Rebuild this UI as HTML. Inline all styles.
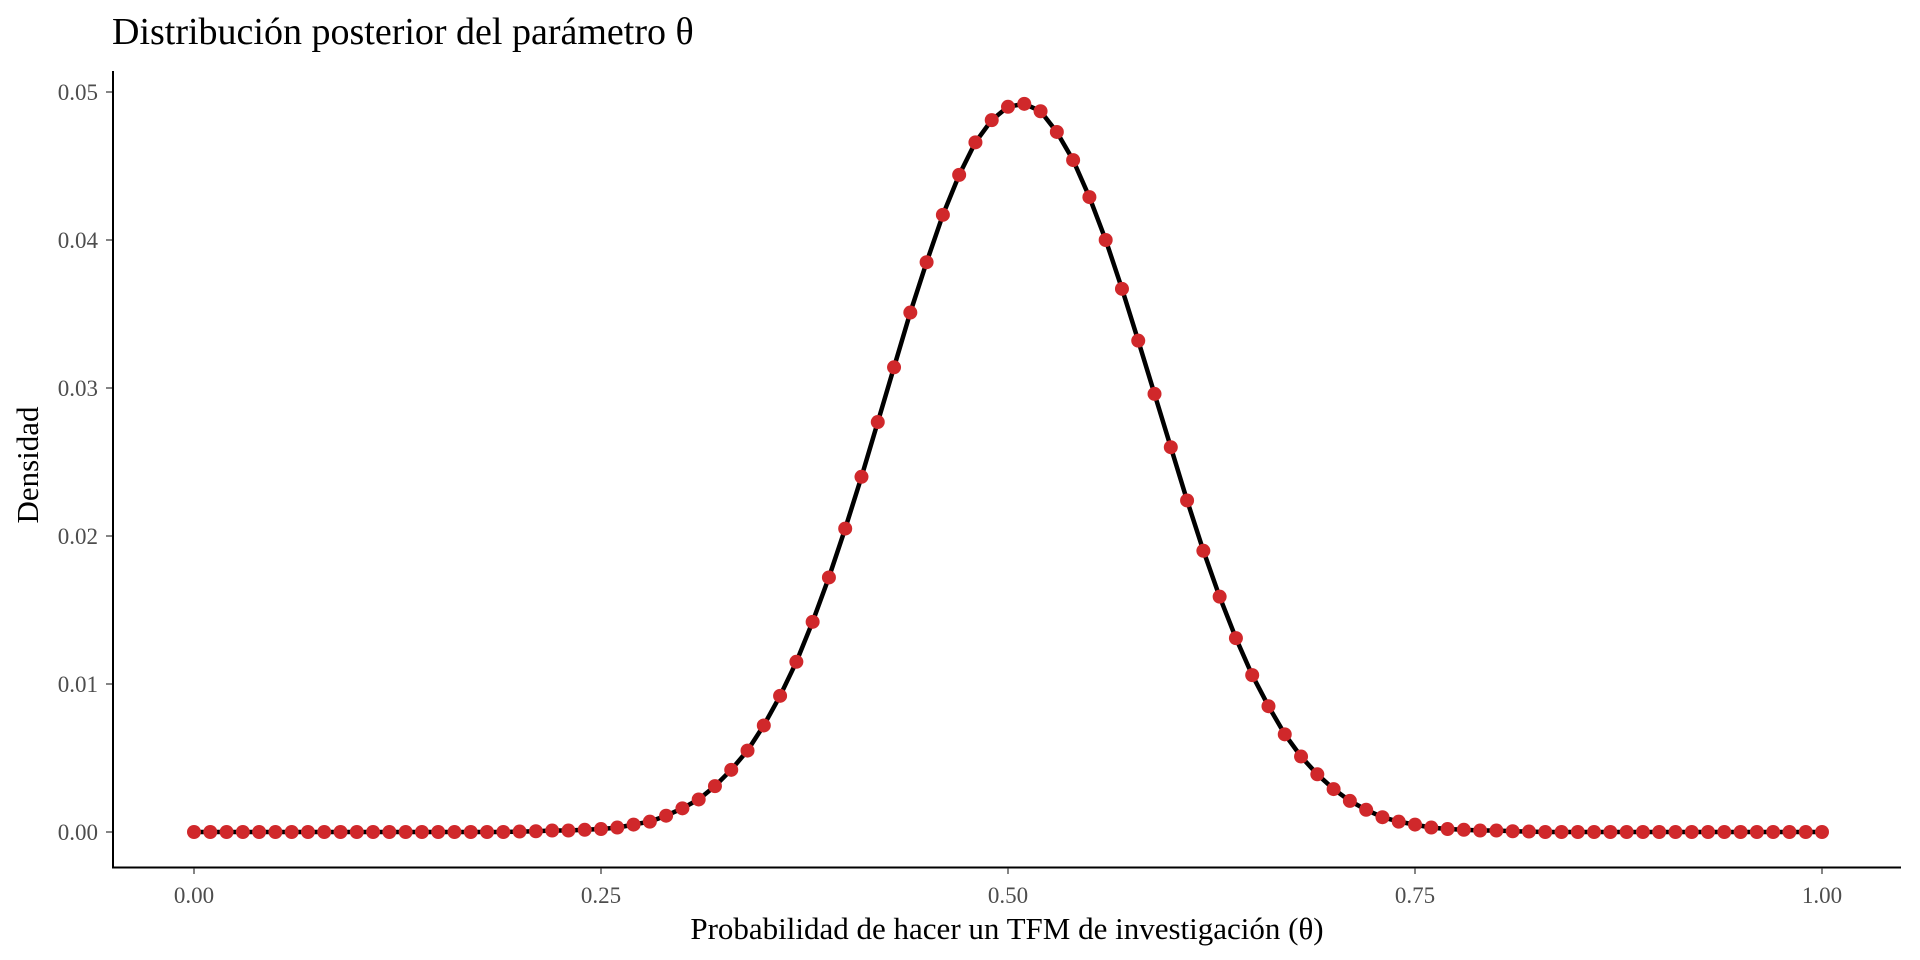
<!DOCTYPE html>
<html><head><meta charset="utf-8"><style>
html,body{margin:0;padding:0;background:#fff;}
svg{display:block;font-family:"Liberation Serif",serif;}
</style></head><body>
<svg id="chart" width="1920" height="960">
<text x="112" y="44" font-size="38" fill="#000">Distribución posterior del parámetro θ</text>
<g id="axes"></g>
<g id="marks"></g>
<text x="1007" y="939" font-size="31" text-anchor="middle" fill="#000">Probabilidad de hacer un TFM de investigación (θ)</text>
<text transform="translate(38,465) rotate(-90)" font-size="31" text-anchor="middle" fill="#000">Densidad</text>
</svg>
<script>
const xTicks=[0,0.25,0.5,0.75,1];
const xTickLabels=["0.00","0.25","0.50","0.75","1.00"];
const yTicks=[0,0.01,0.02,0.03,0.04,0.05];
const yTickLabels=["0.00","0.01","0.02","0.03","0.04","0.05"];
const theta=[];for(let i=0;i<=100;i++)theta.push(i/100);
const density=[0,0,0,0,0,0,0,0,0,0,
0,0,0,0,0,0,0,0,0,0,
0.00003,0.00005,0.0001,0.0001,0.00015,0.0002,0.0003,0.0005,0.0007,0.0011,
0.0016,0.0022,0.0031,0.0042,0.0055,0.0072,0.0092,0.0115,0.0142,0.0172,
0.0205,0.0240,0.0277,0.0314,0.0351,0.0385,0.0417,0.0444,0.0466,0.0481,
0.0490,0.0492,0.0487,0.0473,0.0454,0.0429,0.0400,0.0367,0.0332,0.0296,
0.0260,0.0224,0.0190,0.0159,0.0131,0.0106,0.0085,0.0066,0.0051,0.0039,
0.0029,0.0021,0.0015,0.0010,0.0007,0.0005,0.0003,0.0002,0.00015,0.0001,
0.0001,0.00005,0.00003,0,0,0,0,0,0,0,
0,0,0,0,0,0,0,0,0,0,0];
const NS="http://www.w3.org/2000/svg";
const X0=194,X1=1822,Y0=832,Y5=92;
const sx=v=>X0+v*(X1-X0);
const sy=v=>Y0-(v/0.05)*(Y0-Y5);
function mk(tag,attrs,parent){const e=document.createElementNS(NS,tag);for(const k in attrs)e.setAttribute(k,attrs[k]);parent.appendChild(e);return e;}
const axes=document.getElementById('axes'),marks=document.getElementById('marks');
let e=mk('line',{x1:113,y1:71,x2:113,y2:868,stroke:'#000','stroke-width':2},axes);


e=mk('line',{x1:112,y1:867.5,x2:1901,y2:867.5,stroke:'#000','stroke-width':2},axes);


yTicks.forEach((t,i)=>{
 const y=sy(t);
 let l=mk('line',{x1:106,y1:y,x2:112,y2:y,stroke:'#333','stroke-width':1.2},axes);
 
 
 let tx=mk('text',{x:98,y:y+8,'font-size':23,'text-anchor':'end',fill:'#4d4d4d'},axes);
 tx.textContent=yTickLabels[i];
 
 
});
xTicks.forEach((t,i)=>{
 const x=sx(t);
 let l=mk('line',{x1:x,y1:868,x2:x,y2:874,stroke:'#333','stroke-width':1.2},axes);
 
 
 let tx=mk('text',{x:x,y:903,'font-size':23,'text-anchor':'middle',fill:'#4d4d4d'},axes);
 tx.textContent=xTickLabels[i];
 
 
});
const pts=theta.map((t,i)=>sx(t).toFixed(1)+','+sy(density[i]).toFixed(1)).join(' ');
const pl=mk('polyline',{points:pts,fill:'none',stroke:'#000','stroke-width':4.5,'stroke-linejoin':'round'},marks);


theta.forEach((t,i)=>{
 const c=mk('circle',{cx:sx(t),cy:sy(density[i]),r:7,fill:'#d0282b'},marks);
 
 
});
</script>
</body></html>
